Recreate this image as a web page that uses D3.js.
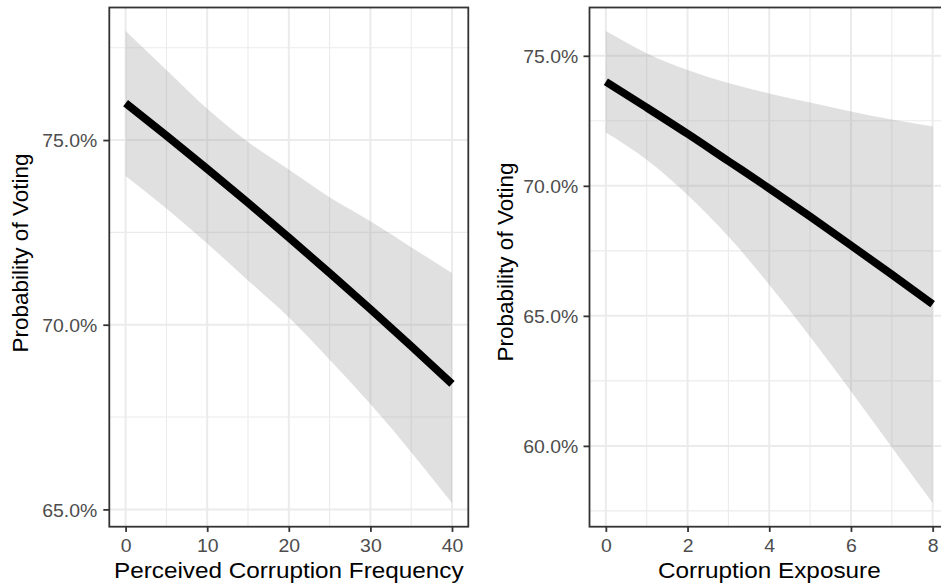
<!DOCTYPE html>
<html>
<head>
<meta charset="utf-8">
<script src="https://cdn.jsdelivr.net/npm/d3@7"></script>
<style>
  body { margin: 0; background: #fff; }
  svg { display: block; font-family: "Liberation Sans", Arial, sans-serif; }
</style>
</head>
<body>
<script>
let w = 941;
let h = 588;

// left panel: perceived corruption frequency
let freqX = [0, 5, 10, 15, 20, 25, 30, 35, 40];
let freqFit = [76.0, 75.12, 74.22, 73.30, 72.36, 71.40, 70.42, 69.42, 68.40];
let freqLow = [74.03, 73.15, 72.2, 71.2, 70.2, 69.05, 67.85, 66.55, 65.17];
let freqHigh = [77.95, 76.9, 75.85, 74.95, 74.2, 73.45, 72.8, 72.1, 71.4];
let freqXTicks = [0, 10, 20, 30, 40];
let freqYTicks = [65, 70, 75];

// right panel: corruption exposure
let expX = [0, 1, 2, 3, 4, 5, 6, 7, 8];
let expFit = [74.0, 73.01, 72.0, 70.95, 69.90, 68.82, 67.71, 66.59, 65.45];
let expLow = [72.05, 71.0, 69.65, 68.05, 66.2, 64.2, 62.1, 59.95, 57.8];
let expHigh = [75.95, 75.1, 74.45, 73.95, 73.55, 73.2, 72.86, 72.55, 72.28];
let expXTicks = [0, 2, 4, 6, 8];
let expYTicks = [60, 65, 70, 75];

let stretch = 1.08; // text in the picture is a little wider than Liberation Sans

let svg = d3.select("body")
            .append("svg")
            .attr("width", w)
            .attr("height", h);

// ggplot style 5% expansion
function expand(lo, hi) {
  let r = hi - lo;
  return [lo - 0.05 * r, hi + 0.05 * r];
}

function midpoints(t) {
  let s = t[1] - t[0];
  let m = [t[0] - s / 2];
  for (let i = 0; i < t.length - 1; i++) m.push((t[i] + t[i + 1]) / 2);
  m.push(t[t.length - 1] + s / 2);
  return m;
}

function panel(opts) {
  let left = opts.left, right = opts.right, top = 7.5, bottom = 526.7;
  let xd = expand(d3.min(opts.xs), d3.max(opts.xs));
  let yd = expand(d3.min(opts.low), d3.max(opts.high));
  let x = d3.scaleLinear().domain(xd).range([left, right]);
  let y = d3.scaleLinear().domain(yd).range([bottom, top]);

  let g = svg.append("g");
  let inX = v => v >= xd[0] && v <= xd[1];
  let inY = v => v >= yd[0] && v <= yd[1];

  // minor grid
  g.selectAll(".mx").data(midpoints(opts.xTicks).filter(inX)).enter().append("line")
    .attr("x1", d => x(d)).attr("x2", d => x(d)).attr("y1", top).attr("y2", bottom)
    .attr("stroke", "#ebebeb").attr("stroke-width", 1.1);
  g.selectAll(".my").data(midpoints(opts.yTicks).filter(inY)).enter().append("line")
    .attr("y1", d => y(d)).attr("y2", d => y(d)).attr("x1", left).attr("x2", right)
    .attr("stroke", "#ebebeb").attr("stroke-width", 1.1);
  // major grid
  g.selectAll(".gx").data(opts.xTicks).enter().append("line")
    .attr("x1", d => x(d)).attr("x2", d => x(d)).attr("y1", top).attr("y2", bottom)
    .attr("stroke", "#ebebeb").attr("stroke-width", 2);
  g.selectAll(".gy").data(opts.yTicks).enter().append("line")
    .attr("y1", d => y(d)).attr("y2", d => y(d)).attr("x1", left).attr("x2", right)
    .attr("stroke", "#ebebeb").attr("stroke-width", 2);

  let rows = opts.xs.map((v, i) => ({x: v, fit: opts.fit[i], lo: opts.low[i], hi: opts.high[i]}));

  g.append("path")
    .datum(rows)
    .attr("d", d3.area().x(d => x(d.x)).y0(d => y(d.lo)).y1(d => y(d.hi)).curve(d3.curveMonotoneX))
    .attr("fill", "#999999")
    .attr("fill-opacity", 0.3);

  g.append("path")
    .datum(rows)
    .attr("d", d3.line().x(d => x(d.x)).y(d => y(d.fit)).curve(d3.curveMonotoneX))
    .attr("fill", "none")
    .attr("stroke", "#000")
    .attr("stroke-width", 7.8);

  g.append("rect")
    .attr("x", left).attr("y", top)
    .attr("width", right - left).attr("height", bottom - top)
    .attr("fill", "none").attr("stroke", "#333333").attr("stroke-width", 1.8);

  // axes
  let xAxis = d3.axisBottom(x).tickValues(opts.xTicks).tickSize(5.2).tickPadding(7.3).tickFormat(d3.format("d"));
  let yAxis = d3.axisLeft(y).tickValues(opts.yTicks).tickSize(6).tickPadding(5).tickFormat(d => d.toFixed(1) + "%");

  let ax = svg.append("g").attr("transform", "translate(0," + bottom + ")").call(xAxis);
  let ay = svg.append("g").attr("transform", "translate(" + left + ",0)").call(yAxis);
  [ax, ay].forEach(a => {
    a.select(".domain").remove();
    a.selectAll(".tick line").attr("stroke", "#333333").attr("stroke-width", 1.8);
    a.selectAll(".tick text").attr("fill", "#4d4d4d").style("font-size", "18px")
      .style("font-family", "'Liberation Sans', Arial, sans-serif");
  });
  ax.selectAll(".tick text").attr("transform", "scale(" + stretch + ",1)");
  ay.selectAll(".tick text")
    .attr("x", -opts.labelGap / stretch)
    .attr("dy", "0.38em")
    .attr("transform", "scale(" + stretch + ",1)");

  let cx = (left + right) / 2 + (opts.xTitleShift || 0);
  svg.append("text")
    .attr("transform", "translate(" + cx + ",578.2) scale(" + stretch + ",1)")
    .attr("text-anchor", "middle")
    .style("font-size", "22.5px")
    .attr("fill", "#000")
    .text(opts.xTitle);

  svg.append("text")
    .attr("transform", "translate(" + (left - opts.yTitleGap) + "," + opts.yTitleMid + ") rotate(-90)")
    .attr("text-anchor", "middle")
    .style("font-size", "22.5px")
    .attr("fill", "#000")
    .text("Probability of Voting");
}

panel({
  left: 109.3, right: 468.3,
  xs: freqX, fit: freqFit, low: freqLow, high: freqHigh,
  xTicks: freqXTicks, yTicks: freqYTicks,
  xTitle: "Perceived Corruption Frequency",
  labelGap: 12, yTitleGap: 81.5, yTitleMid: 253
});

panel({
  left: 589.5, right: 949,
  xs: expX, fit: expFit, low: expLow, high: expHigh,
  xTicks: expXTicks, yTicks: expYTicks,
  xTitle: "Corruption Exposure",
  labelGap: 11.3, yTitleGap: 77, yTitleMid: 262, xTitleShift: 0
});
</script>
</body>
</html>
